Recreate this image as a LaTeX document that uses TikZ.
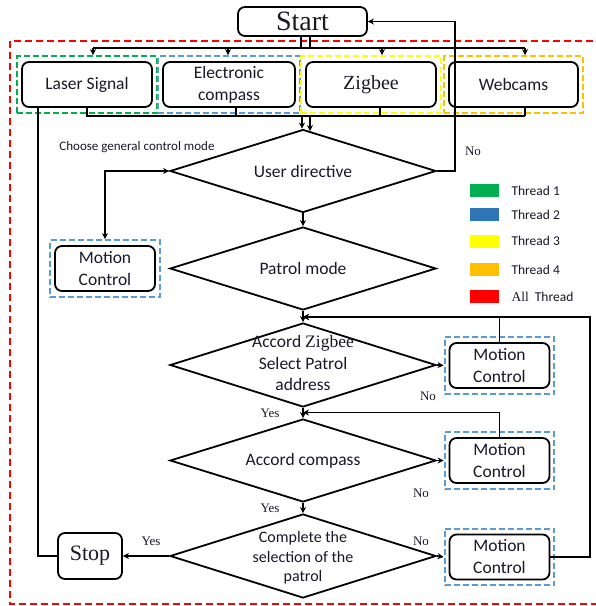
\documentclass[tikz,border=0pt]{standalone}
\usepackage{fontspec}
\setmainfont{Carlito}
\newfontfamily\serifx{Liberation Serif}
\usetikzlibrary{shapes.geometric,arrows.meta,fit,calc}
\definecolor{tgreen}{RGB}{0,176,80}
\definecolor{tblue}{RGB}{46,117,182}
\definecolor{lblue}{RGB}{91,155,213}
\definecolor{tyellow}{RGB}{255,255,0}
\definecolor{torange}{RGB}{255,192,0}
\definecolor{tred}{RGB}{255,0,0}
\definecolor{ink}{RGB}{25,25,40}
\begin{document}
\begin{tikzpicture}[x=1pt,y=-1pt,
  lw/.style={line width=1.8pt},
  box/.style={draw, lw, rounded corners=7pt, align=center, text=ink,
    font=\fontsize{17.5}{22}\selectfont, inner sep=0pt},
  mcbox/.style={box, minimum width=100pt, minimum height=45pt},
  tbox/.style={draw=#1, line width=2pt, dash pattern=on 6pt off 3pt, inner xsep=4pt, inner ysep=5pt},
  dia/.style={draw, lw, diamond, inner sep=0pt, minimum width=266pt, minimum height=83pt},
  dtext/.style={align=center, text=ink, font=\fontsize{17.5}{21.5}\selectfont},
  arr/.style={lw, -{Stealth[length=6pt,width=6pt]}},
  lab/.style={text=ink, font=\serifx\fontsize{13}{13}\selectfont},
  legbox/.style={fill=#1, minimum width=29pt, minimum height=13pt, inner sep=0pt},
  legtext/.style={anchor=west, text=ink, font=\fontsize{13.5}{13.5}\selectfont}
]
\useasboundingbox (0,0) rectangle (596,606);
\fill[white] (0,0) rectangle (596,606);
% all-thread frame
\draw[tred, line width=2pt, dash pattern=on 7pt off 4pt] (10,41) rectangle (602,604);

% start
\node[box, minimum width=129pt, minimum height=29pt, font=\serifx\fontsize{28}{28}\selectfont] (start) at (302.5,21.5) {Start};

% thread boxes
\node[box, minimum width=130pt, minimum height=45pt] (laser) at (87,84.5) {Laser Signal};
\node[box, minimum width=132pt, minimum height=45pt] (ecomp) at (229,84.5) {Electronic\\compass};
\node[box, minimum width=130pt, minimum height=45pt, font=\serifx\fontsize{20}{20}\selectfont] (zig) at (371,84.5) {Zigbee};
\node[box, minimum width=129pt, minimum height=45pt] (web) at (513.5,84.5) {Webcams};
\node[tbox=tgreen, fit=(laser)] (laserT) {};
\node[tbox=lblue, fit=(ecomp)] (ecompT) {};
\node[tbox=tyellow, fit=(zig)] (zigT) {};
\node[tbox=torange, fit=(web)] (webT) {};

% top distribution bus
\coordinate (tbL) at (93,48);
\coordinate (tbR) at (525,48);
\draw[lw] ([xshift=-1.5pt]start.south) -- ([xshift=-1.5pt]start.south |- tbL);
\draw[lw] ([xshift=7.5pt]start.south) -- ([xshift=7.5pt]start.south |- tbL);
\draw[lw] (tbL) -- (tbR);
\draw[arr] (tbL) -- (tbL |- laserT.north);
\draw[arr] ([xshift=-1pt]ecomp.north |- tbL) -- ([xshift=-1pt]ecompT.north);
\draw[arr] ([xshift=11pt]zig.north |- tbL) -- ([xshift=11pt]zigT.north);
\draw[arr] (tbR) -- (tbR |- webT.north);

% diamonds
\node[dia] (ud) at (303,171) {};
\node[dtext] (udt) at (ud) {User directive};
\node[dia] (pm) at (303,268.5) {};
\node[dtext] (pmt) at (pm) {Patrol mode};
\node[dia, minimum height=84pt] (az) at (303,365) {};
\node[dtext] (azt) at ([yshift=2pt]az) {Accord {\serifx Zigbee}\\Select Patrol\\address};
\node[dia] (ac) at (303,460.5) {};
\node[dtext] (act) at (ac) {Accord compass};
\node[dia, minimum height=84pt] (cs) at (303,556) {};
\node[dtext, font=\fontsize{16}{19.5}\selectfont] (cst) at ([yshift=-2pt]cs) {Complete the\\selection of the\\patrol};

% bottom collection bus
\coordinate (bbL) at (86,116);
\coordinate (bbR) at (525,116);
\draw[lw] (laser.south) -- (laser.south |- bbL);
\draw[lw] ([xshift=7pt]ecomp.south) -- ([xshift=7pt]ecomp.south |- bbL);
\draw[lw] ([xshift=9pt]zig.south) -- ([xshift=9pt]zig.south |- bbL);
\draw[lw] ([xshift=11.5pt]web.south) -- ([xshift=11.5pt]web.south |- bbL);
\draw[lw] (bbL) -- (bbR);
\coordinate (d1) at (302,116);
\coordinate (d2) at (310,116);
\draw[arr] (d1) -- (d1 |- ud.north);
\draw[arr] (d2) -- ([xshift=7pt,yshift=-2.5pt]ud.north);

% motion control boxes
\node[mcbox] (mc0) at (105,268.5) {Motion\\Control};
\node[mcbox] (mc1) at (499.5,365.5) {Motion\\Control};
\node[mcbox] (mc2) at (499.5,460.5) {Motion\\Control};
\node[mcbox] (mc3) at (499.5,557) {Motion\\Control};
\node[tbox=lblue, fit=(mc0)] (mc0T) {};
\node[tbox=lblue, fit=(mc1)] (mc1T) {};
\node[tbox=lblue, fit=(mc2)] (mc2T) {};
\node[tbox=lblue, fit=(mc3)] (mc3T) {};

% stop
\node[box, minimum width=64pt, minimum height=46pt, font=\serifx\fontsize{22}{22}\selectfont] (stop) at (90,556) {Stop};

% main flow
\draw[arr] (ud.south) -- (pm.north);
\draw[arr] (pm.south) -- (az.north);
\draw[arr] (az.south) -- (ac.north);
\draw[arr] (ac.south) -- (cs.north);

% user directive: No -> back to start
\coordinate (ret) at (455,171);
\draw[arr] (ud.east) -- (ret) |- (start.east);
% user directive <-> motion control
\draw[lw, {Stealth[length=6pt,width=6pt]}-{Stealth[length=6pt,width=6pt]}] (mc0T.north) |- (ud.west);

% decisions to motion control
\draw[arr] (az.east) -- (mc1T.west);
\draw[arr] (ac.east) -- (mc2T.west);
\draw[arr] (cs.east) -- (mc3T.west);

% feedback loops
\coordinate (j1) at (303,317);
\coordinate (j2) at (303,412.5);
\draw[arr] (mc1.north) |- (j1);
\draw[arr] (mc2.north) |- (j2);
\draw[arr] (mc3.east) -- ++(39.5,0) |- (j1);

% stop
\draw[arr] (cs.west) -- (stop.east);
\draw[lw] (stop.west) -| ([xshift=-49pt]laser.south);

% labels
\node[lab] (no0) at (473,151) {No};
\node[lab] (no1) at (428,396) {No};
\node[lab] (no2) at (421,493) {No};
\node[lab] (no3) at (421,541) {No};
\node[lab] (yes1) at (270,413) {Yes};
\node[lab] (yes2) at (270,508) {Yes};
\node[lab] (yes3) at (151,541) {Yes};
\node[text=ink, font=\fontsize{13}{13}\selectfont] (cgm) at (137,147) {Choose general control mode};

% legend
\node[legbox=tgreen] (l1) at (484.5,190.5) {};
\node[legbox=tblue] (l2) at (484.5,214.5) {};
\node[legbox=tyellow] (l3) at (484.5,241) {};
\node[legbox=torange] (l4) at (484.5,269.5) {};
\node[legbox=tred] (l5) at (484.5,296.5) {};
\node[legtext] (t1) at (508,190.5) {Thread 1};
\node[legtext] (t2) at (508,214.5) {Thread 2};
\node[legtext] (t3) at (508,241) {Thread 3};
\node[legtext] (t4) at (508,269.5) {Thread 4};
\node[legtext] (t5) at (508,296.5) {{\serifx All}\ \ Thread};
\end{tikzpicture}
\end{document}
